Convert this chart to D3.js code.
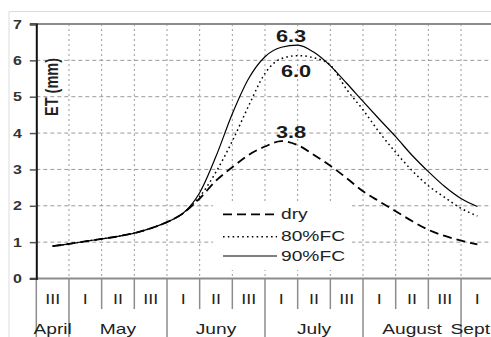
<!DOCTYPE html>
<html><head><meta charset="utf-8">
<script src="https://cdn.jsdelivr.net/npm/d3@7"></script>
<style>
html,body{margin:0;padding:0;background:#fff;}
svg{display:block;font-family:"Liberation Sans",Arial,sans-serif;}
</style></head>
<body>
<svg id="chart" width="491" height="337"></svg>
<script>
// ---- data ----
const decadePos = [0.5,1,1.5,2,2.5,3,3.5,4,4.5,5,5.5,6,6.5,7,7.5,8,8.5,9,9.5,10,10.5,11,11.5,12,12.5,13,13.5];
const etDry  = [0.89,0.95,1.02,1.09,1.16,1.25,1.38,1.55,1.80,2.20,2.69,3.06,3.40,3.63,3.78,3.67,3.40,3.10,2.76,2.40,2.12,1.85,1.58,1.34,1.17,1.04,0.94];
const et80FC = [0.89,0.95,1.02,1.09,1.16,1.25,1.38,1.55,1.80,2.25,2.93,3.78,4.75,5.64,6.05,6.13,6.07,5.87,5.20,4.64,4.02,3.47,2.97,2.55,2.23,1.93,1.72];
const et90FC = [0.89,0.95,1.02,1.09,1.16,1.25,1.38,1.55,1.80,2.36,3.36,4.53,5.50,6.10,6.36,6.42,6.22,5.85,5.37,4.87,4.38,3.90,3.39,2.94,2.53,2.20,1.98];
const decadeLabels = ["III","I","II","III","I","II","III","I","II","III","I","II","III","I"];
const monthLabels = ["April","May","Juny","July","August","Sept"];
const monthCenters = [0.5,2.5,5.5,8.5,11.5,13.5];
const monthBounds = [0,1,4,7,10,13];
const yTicks = [0,1,2,3,4,5,6,7];
const peakLabels = ["6.3","6.0","3.8"];
const legendNames = ["dry","80%FC","90%FC"];

// ---- scales ----
const svg = d3.select("#chart");
const x = d3.scaleLinear().domain([0,14]).range([36.3,493.7]);
const y = d3.scaleLinear().domain([0,7]).range([278.5,24]);
const SX = 1.28;

function stext(g, tx, ty, str, opts){
  return g.append("text")
    .attr("transform",`translate(${tx},${ty}) scale(${SX},1)`)
    .attr("text-anchor",opts.anchor||"middle")
    .attr("font-size",opts.size||14)
    .attr("font-weight",opts.weight||"normal")
    .attr("fill",opts.fill||"#222")
    .text(str);
}

// outer light frame
svg.append("path").attr("d","M9,337 V11.5 H491").attr("fill","none").attr("stroke","#dcdcdc").attr("stroke-width",1);

// horizontal grid (dashed)
svg.append("g").selectAll("line").data([1,2,3,4,5,6]).join("line")
  .attr("x1",x(0)).attr("x2",491).attr("y1",d=>y(d)).attr("y2",d=>y(d))
  .attr("stroke","#9a9a9a").attr("stroke-width",1).attr("stroke-dasharray","4,3");

// vertical grid (dotted)
const bounds = d3.range(1,14);
svg.append("g").selectAll("line").data(bounds).join("line")
  .attr("x1",d=>x(d)).attr("x2",d=>x(d)).attr("y1",y(7)).attr("y2",y(0))
  .attr("stroke","#9a9a9a").attr("stroke-width",1).attr("stroke-dasharray","2,3");

// separators below axis
svg.append("g").selectAll("line").data(bounds.filter(b=>!monthBounds.includes(b))).join("line")
  .attr("x1",d=>x(d)).attr("x2",d=>x(d)).attr("y1",y(0)).attr("y2",309)
  .attr("stroke","#8c8c8c").attr("stroke-width",1.5);
svg.append("g").selectAll("line").data(monthBounds).join("line")
  .attr("x1",d=>x(d)).attr("x2",d=>x(d)).attr("y1",y(0)).attr("y2",337)
  .attr("stroke","#8c8c8c").attr("stroke-width",1.5);

// top border & x axis line
svg.append("line").attr("x1",30).attr("x2",491).attr("y1",y(7)).attr("y2",y(7))
  .attr("stroke","#8c8c8c").attr("stroke-width",2);
svg.append("line").attr("x1",30).attr("x2",491).attr("y1",y(0)).attr("y2",y(0))
  .attr("stroke","#8c8c8c").attr("stroke-width",2);

// y axis via d3 axis
const yAxis = svg.append("g").attr("transform",`translate(${x(0)},0)`)
  .call(d3.axisLeft(y).tickValues(yTicks).tickSize(6.5).tickFormat(""));
yAxis.select(".domain").attr("stroke","#111").attr("stroke-width",2);
yAxis.selectAll(".tick line").attr("stroke","#555").attr("stroke-width",1.5);
const yl = svg.append("g");
yTicks.forEach(v=>{
  stext(yl, 22, y(v)+4.5, String(v), {anchor:"end", size:12.5, weight:"bold", fill:"#333"});
});

// y title
svg.append("text")
  .attr("transform",`translate(58,87) scale(${SX},1) rotate(-90)`)
  .attr("text-anchor","middle").attr("font-size",14.5).attr("font-weight","bold")
  .attr("fill","#222").text("ET (mm)");

// decade labels
const dl = svg.append("g");
decadeLabels.forEach((s,i)=>{ stext(dl, x(i+0.5), 304.3, s, {size:14}); });
// month labels
monthLabels.forEach((s,i)=>{
  if (i === monthLabels.length-1) stext(dl, 490, 334, s, {size:15, anchor:"end"});
  else stext(dl, x(monthCenters[i]), 334, s, {size:15});
});

// legend box
svg.append("rect").attr("x",213).attr("y",201).attr("width",139).attr("height",69).attr("fill","#fff");

// curves
const line = d3.line().x(d=>x(d[0])).y(d=>y(d[1])).curve(d3.curveMonotoneX);
const styles = [
  {data:etDry, dash:"9,5", w:1.8},
  {data:et80FC, dash:"1.6,3.2", w:1.5},
  {data:et90FC, dash:null, w:1.2}
];
styles.forEach(s=>{
  svg.append("path").attr("d",line(decadePos.map((p,i)=>[p,s.data[i]])))
    .attr("fill","none").attr("stroke","#000").attr("stroke-width",s.w)
    .attr("stroke-dasharray",s.dash);
});

// legend entries
const lg = svg.append("g");
const legY = [214.3,236.7,256];
const legBase = [219.3,241,261];
styles.forEach((s,i)=>{
  lg.append("line").attr("x1",223).attr("x2",277).attr("y1",legY[i]).attr("y2",legY[i])
    .attr("stroke","#000").attr("stroke-width",s.w).attr("stroke-dasharray",s.dash);
  stext(lg, 281, legBase[i], legendNames[i], {anchor:"start", size:15});
});

// peak labels
const pl = svg.append("g");
const peakX = [291,296,291], peakY = [41.7,77.3,137.7];
peakLabels.forEach((s,i)=>{ stext(pl, peakX[i], peakY[i], s, {size:17, weight:"bold", fill:"#1a1a1a"}); });
</script>
</body></html>
